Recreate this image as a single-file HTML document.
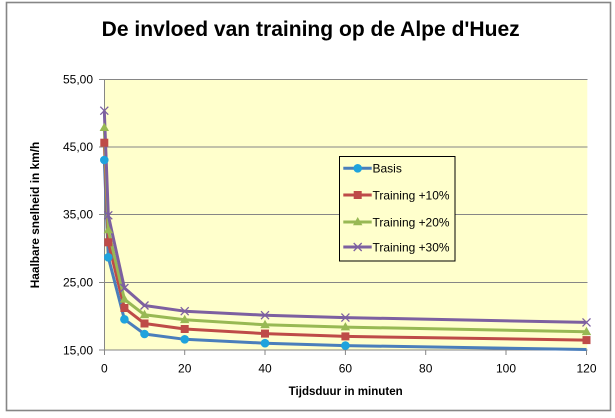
<!DOCTYPE html>
<html><head><meta charset="utf-8"><style>
html,body{margin:0;padding:0;background:#fff;}
svg{display:block;}
text{font-family:"Liberation Sans",sans-serif;fill:#000;}
</style></head><body>
<svg width="615" height="418" viewBox="0 0 615 418" xmlns="http://www.w3.org/2000/svg">
<rect x="0" y="0" width="615" height="418" fill="#fff"/>
<rect x="6.5" y="2.5" width="604" height="408" fill="#fff" stroke="#868686" stroke-width="1.6"/>
<text x="101.7" y="36" font-size="21" font-weight="bold" textLength="418" lengthAdjust="spacingAndGlyphs">De invloed van training op de Alpe d'Huez</text>
<!-- plot area -->
<rect x="104.3" y="79" width="483" height="271" fill="#FFFFCC"/>
<g stroke="#868686" stroke-width="1">
<line x1="99" y1="79.5" x2="587.5" y2="79.5"/>
<line x1="99" y1="147" x2="587.5" y2="147"/>
<line x1="99" y1="214.5" x2="587.5" y2="214.5"/>
<line x1="99" y1="282.5" x2="587.5" y2="282.5"/>
<line x1="99" y1="350" x2="587.5" y2="350"/>
<line x1="104.5" y1="79" x2="104.5" y2="355"/>
<line x1="184.7" y1="350" x2="184.7" y2="355"/>
<line x1="265" y1="350" x2="265" y2="355"/>
<line x1="345.4" y1="350" x2="345.4" y2="355"/>
<line x1="425.7" y1="350" x2="425.7" y2="355"/>
<line x1="506" y1="350" x2="506" y2="355"/>
<line x1="586.5" y1="350" x2="586.5" y2="355"/>
</g>
<g font-size="12" text-anchor="end">
<text x="93" y="83.5">55,00</text>
<text x="93" y="151">45,00</text>
<text x="93" y="218.5">35,00</text>
<text x="93" y="286.5">25,00</text>
<text x="93" y="354.5">15,00</text>
</g>
<g font-size="12" text-anchor="middle">
<text x="104.3" y="372.5">0</text>
<text x="184.7" y="372.5">20</text>
<text x="265" y="372.5">40</text>
<text x="345.4" y="372.5">60</text>
<text x="425.7" y="372.5">80</text>
<text x="506" y="372.5">100</text>
<text x="586.5" y="372.5">120</text>
</g>
<text x="288.7" y="395" font-size="11.5" font-weight="bold" textLength="114" lengthAdjust="spacingAndGlyphs">Tijdsduur in minuten</text>
<text transform="translate(39,288.3) rotate(-90)" x="0" y="0" font-size="11.5" font-weight="bold" textLength="146.6" lengthAdjust="spacingAndGlyphs">Haalbare snelheid in km/h</text>

<!-- series -->
<g fill="none" stroke-width="3" stroke-linejoin="round">
<polyline stroke="#4A7EBB" points="104.3,160 108.3,257.3 124.4,319.3 144.5,334 184.7,339.3 265,343.2 345.4,345.6 586.5,349.5"/>
<polyline stroke="#BE4B48" points="104.3,142.7 108.3,242.3 124.4,308 144.5,323.5 184.7,329 265,333.6 345.4,336.4 586.5,340.1"/>
<polyline stroke="#98B954" points="104.3,127.7 108.3,230 124.4,299.3 144.5,314.8 184.7,319.8 265,324.8 345.4,327.1 586.5,331.8"/>
<polyline stroke="#7D60A0" points="104.3,110.7 108.3,215.3 124.4,288 144.5,305.5 184.7,311.2 265,315.2 345.4,317.6 586.5,322.4"/>
</g>
<!-- markers blue -->
<g fill="#1FA3DD">
<circle cx="104.3" cy="160" r="4.3"/><circle cx="108.3" cy="257.3" r="4.3"/><circle cx="124.4" cy="319.3" r="4.3"/><circle cx="144.5" cy="334" r="4.3"/><circle cx="184.7" cy="339.3" r="4.3"/><circle cx="265" cy="343.2" r="4.3"/><circle cx="345.4" cy="345.6" r="4.3"/>
</g>
<!-- markers red -->
<g fill="#BE4B48">
<rect x="100.3" y="138.7" width="8" height="8"/><rect x="104.3" y="238.3" width="8" height="8"/><rect x="120.4" y="304" width="8" height="8"/><rect x="140.5" y="319.5" width="8" height="8"/><rect x="180.7" y="325" width="8" height="8"/><rect x="261" y="329.6" width="8" height="8"/><rect x="341.4" y="332.4" width="8" height="8"/><rect x="582.5" y="336.1" width="8" height="8"/>
</g>
<!-- markers green -->
<g fill="#98B954">
<polygon points="104.3,122.7 109,131 99.6,131"/><polygon points="108.3,225 113,233.3 103.6,233.3"/><polygon points="124.4,294.3 129.1,302.6 119.7,302.6"/><polygon points="144.5,309.8 149.2,318.1 139.8,318.1"/><polygon points="184.7,314.8 189.4,323.1 180,323.1"/><polygon points="265,319.8 269.7,328.1 260.3,328.1"/><polygon points="345.4,322.1 350.1,330.4 340.7,330.4"/><polygon points="586.5,326.8 591.2,335.1 581.8,335.1"/>
</g>
<!-- markers purple -->
<g stroke="#7D60A0" stroke-width="1.3">
<path d="M100.3,106.7 l8,8 M108.3,106.7 l-8,8"/>
<path d="M104.3,211.3 l8,8 M112.3,211.3 l-8,8"/>
<path d="M120.4,284 l8,8 M128.4,284 l-8,8"/>
<path d="M140.5,301.5 l8,8 M148.5,301.5 l-8,8"/>
<path d="M180.7,307.2 l8,8 M188.7,307.2 l-8,8"/>
<path d="M261,311.2 l8,8 M269,311.2 l-8,8"/>
<path d="M341.4,313.6 l8,8 M349.4,313.6 l-8,8"/>
<path d="M582.5,318.4 l8,8 M590.5,318.4 l-8,8"/>
</g>

<!-- legend -->
<rect x="339.5" y="156.5" width="115.5" height="104.5" fill="#FFFFCC" stroke="#000" stroke-width="1"/>
<g stroke-width="3">
<line x1="343.3" y1="168.3" x2="371.7" y2="168.3" stroke="#4A7EBB"/>
<line x1="343.3" y1="195" x2="371.7" y2="195" stroke="#BE4B48"/>
<line x1="343.3" y1="222" x2="371.7" y2="222" stroke="#98B954"/>
<line x1="343.3" y1="247" x2="371.7" y2="247" stroke="#7D60A0"/>
</g>
<circle cx="357.7" cy="168.3" r="4.3" fill="#1FA3DD"/>
<rect x="353.7" y="191" width="8" height="8" fill="#BE4B48"/>
<polygon points="357.7,217 362.4,225.3 353,225.3" fill="#98B954"/>
<path d="M353.7,243 l8,8 M361.7,243 l-8,8" stroke="#7D60A0" stroke-width="1.3"/>
<g font-size="12">
<text x="372.5" y="172.5">Basis</text>
<text x="372.5" y="199.3" textLength="77" lengthAdjust="spacingAndGlyphs">Training +10%</text>
<text x="372.5" y="226.3" textLength="77" lengthAdjust="spacingAndGlyphs">Training +20%</text>
<text x="372.5" y="251.3" textLength="77" lengthAdjust="spacingAndGlyphs">Training +30%</text>
</g>
</svg>
</body></html>
